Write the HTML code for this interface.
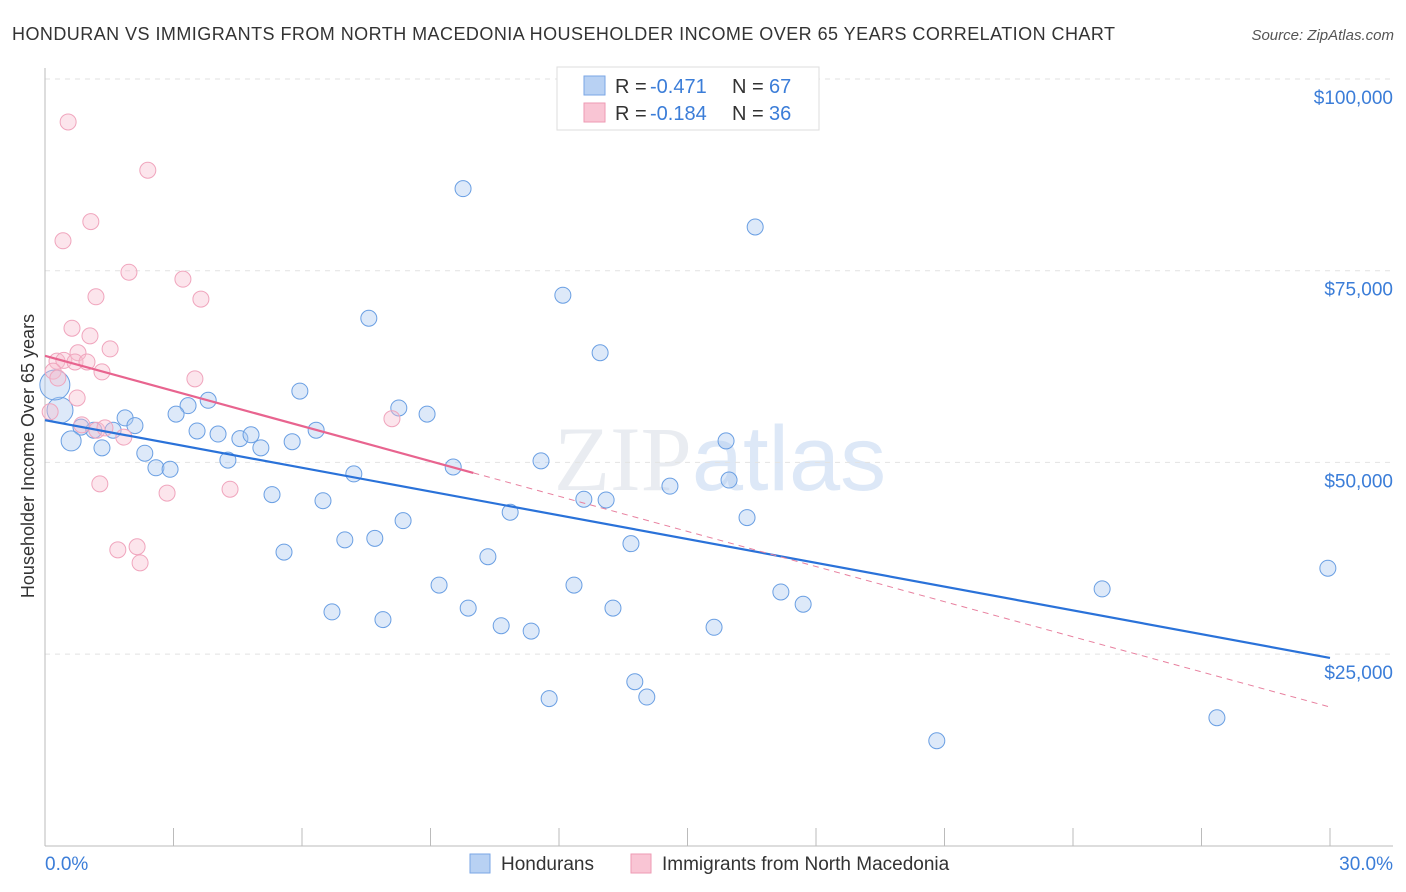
<!DOCTYPE html>
<html><head><meta charset="utf-8"><style>
body{margin:0;background:#fff;font-family:"Liberation Sans",sans-serif;}
svg{display:block}
</style></head><body>
<svg id="chart" width="1406" height="892" xmlns="http://www.w3.org/2000/svg">
<text x="12" y="40" font-size="18" fill="#333" textLength="1103" lengthAdjust="spacing">HONDURAN VS IMMIGRANTS FROM NORTH MACEDONIA HOUSEHOLDER INCOME OVER 65 YEARS CORRELATION CHART</text>
<text x="1394" y="40" font-size="15" fill="#555" font-style="italic" text-anchor="end">Source: ZipAtlas.com</text>
<text x="720" y="490" font-size="92" fill="#e9ecf1" text-anchor="middle" font-family="Liberation Serif">ZIP<tspan fill="#dde8f7" font-family="Liberation Sans">atlas</tspan></text>
<g id="grid"></g>
<g id="axes"></g>
<g id="pts"></g>
<g id="trends"></g>
<text transform="translate(34,456) rotate(-90)" font-size="18" fill="#333" text-anchor="middle">Householder Income Over 65 years</text>
<g>
<rect x="557" y="67" width="262" height="63" fill="#fff" stroke="#ddd"/>
<rect x="584" y="76" width="21" height="19" fill="#b8d1f3" stroke="#7aa6e6"/>
<rect x="584" y="103" width="21" height="19" fill="#f9c5d4" stroke="#ee9ab3"/>
<text x="615" y="93" font-size="20" fill="#333">R =</text>
<text x="650" y="93" font-size="20" fill="#3b7dd8">-0.471</text>
<text x="732" y="93" font-size="20" fill="#333">N =</text>
<text x="769" y="93" font-size="20" fill="#3b7dd8">67</text>
<text x="615" y="120" font-size="20" fill="#333">R =</text>
<text x="650" y="120" font-size="20" fill="#3b7dd8">-0.184</text>
<text x="732" y="120" font-size="20" fill="#333">N =</text>
<text x="769" y="120" font-size="20" fill="#3b7dd8">36</text>
</g>
<g>
<rect x="470" y="854" width="20" height="19" fill="#b8d1f3" stroke="#7aa6e6"/>
<text x="501" y="870" font-size="19" fill="#333">Hondurans</text>
<rect x="631" y="854" width="20" height="19" fill="#f9c5d4" stroke="#ee9ab3"/>
<text x="662" y="870" font-size="19" fill="#333">Immigrants from North Macedonia</text>
</g>
</svg>
<script>
const yTicks=[100000,75000,50000,25000];
const yTickLabels=["$100,000","$75,000","$50,000","$25,000"];
const xTicks=[0,3,6,9,12,15,18,21,24,27,30];
const blueX=[9.76,16.58,12.09,7.56,12.96,5.95,3.81,3.34,8.26,8.92,3.06,1.87,0.84,2.10,1.14,1.59,3.55,4.04,4.55,4.81,6.33,0.61,1.33,2.33,5.77,5.04,15.90,2.59,2.92,4.27,7.21,9.53,11.58,14.59,15.97,5.30,6.49,12.58,13.10,8.36,10.86,16.39,13.68,7.00,7.70,5.58,10.34,29.95,9.20,12.35,24.68,17.18,17.70,6.70,9.88,13.26,7.89,10.65,11.35,15.62,13.77,14.05,11.77,27.36,20.82,0.35,0.23];
const blueY=[85700,80700,71800,68800,64300,59300,58100,57400,57100,56300,56300,55800,54600,54800,54200,54200,54100,53700,53100,53600,54200,52800,51900,51200,52700,51900,52800,49300,49100,50300,48500,49400,50200,46900,47700,45800,45000,45200,45100,42400,43500,42800,39400,39900,40100,38300,37700,36200,34000,34000,33500,33100,31500,30500,31000,31000,29500,28700,28000,28500,21400,19400,19200,16700,13700,56800,60100];
const blueSize=[8,8,8,8,8,8,8,8,8,8,8,8,8,8,8,8,8,8,8,8,8,10,8,8,8,8,8,8,8,8,8,8,8,8,8,8,8,8,8,8,8,8,8,8,8,8,8,8,8,8,8,8,8,8,8,8,8,8,8,8,8,8,8,8,8,13,15];
const pinkX=[0.54,2.40,1.07,0.42,1.96,3.22,1.19,3.64,0.63,1.05,1.52,0.77,0.28,0.44,0.70,0.98,1.33,3.50,0.19,0.30,0.75,8.10,0.86,1.21,1.40,1.84,1.28,2.85,4.32,1.70,2.15,2.22,0.12];
const pinkY=[94400,88100,81400,78900,74800,73900,71600,71300,67500,66500,64800,64300,63200,63300,63100,63100,61800,60900,61900,61000,58400,55700,54900,54200,54500,53300,47200,46000,46500,38600,39000,36900,56600];
const blueTrend=[55500,24500];
const pinkTrend=[63900,18100];
const pinkSolidEnd=10.0;
const NS="http://www.w3.org/2000/svg";
const X=v=>45+v/30*1285;
const Y=v=>79+(100000-v)/25000*191.7;
function mk(tag,attrs,parent){const e=document.createElementNS(NS,tag);for(const k in attrs)e.setAttribute(k,attrs[k]);document.getElementById(parent).appendChild(e);return e;}
yTicks.forEach((t,i)=>{
 const l=mk('line',{x1:45,x2:1393,y1:Y(t),y2:Y(t),stroke:'#e2e2e2','stroke-dasharray':'5,5'},'grid');
 
 
 const tx=mk('text',{x:1393,y:Y(t)+25,'font-size':19,fill:'#3b7dd8','text-anchor':'end'},'grid');
 tx.textContent=yTickLabels[i];
 
 
});
const ax=mk('line',{x1:45,x2:45,y1:68,y2:846,stroke:'#bbb'},'axes');


const bx=mk('line',{x1:45,x2:1393,y1:846,y2:846,stroke:'#bbb'},'axes');


xTicks.forEach(t=>{
 const l=mk('line',{x1:X(t),x2:X(t),y1:828,y2:846,stroke:'#bbb'},'axes');
 
 
});
const xl0=mk('text',{x:45,y:870,'font-size':19,fill:'#3b7dd8'},'axes');xl0.textContent=xTicks[0].toFixed(1)+'%';


const xl1=mk('text',{x:1393,y:870,'font-size':19,fill:'#3b7dd8','text-anchor':'end'},'axes');xl1.textContent=xTicks[xTicks.length-1].toFixed(1)+'%';


blueX.forEach((x,i)=>{
 const c=mk('circle',{cx:X(x),cy:Y(blueY[i]),r:blueSize[i]||8,fill:'rgba(170,200,240,0.4)',stroke:'#6a9fe3','stroke-width':1},'pts');
 
 
});
pinkX.forEach((x,i)=>{
 const c=mk('circle',{cx:X(x),cy:Y(pinkY[i]),r:8,fill:'rgba(248,190,208,0.4)',stroke:'#f0a5bd','stroke-width':1},'pts');
 
 
});
const bt=mk('line',{x1:X(0),y1:Y(blueTrend[0]),x2:X(30),y2:Y(blueTrend[1]),stroke:'#2a72d9','stroke-width':2.2},'trends');


const py=v=>pinkTrend[0]+(pinkTrend[1]-pinkTrend[0])*v/30;
const pt=mk('line',{x1:X(0),y1:Y(py(0)),x2:X(pinkSolidEnd),y2:Y(py(pinkSolidEnd)),stroke:'#e8648f','stroke-width':2.2},'trends');


const pd=mk('line',{x1:X(pinkSolidEnd),y1:Y(py(pinkSolidEnd)),x2:X(30),y2:Y(py(30)),stroke:'#e8809f','stroke-width':1,'stroke-dasharray':'6,5'},'trends');


</script>
</body></html>
